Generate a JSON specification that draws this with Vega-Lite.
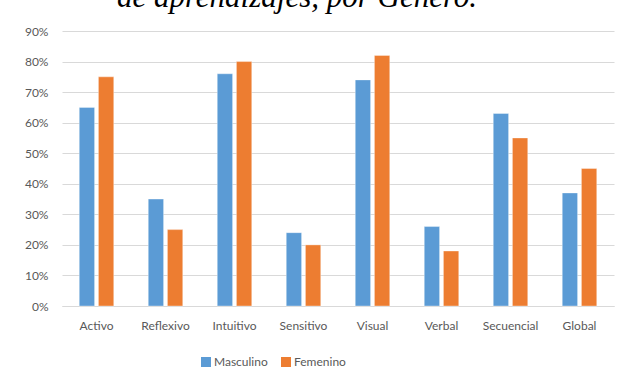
{
  "$schema": "https://vega.github.io/schema/vega-lite/v6.json",
  "width": 552,
  "height": 275,
  "autosize": {"type": "none"},
  "padding": {"left": 62, "top": 31, "right": 6, "bottom": 74},
  "background": "white",
  "title": {
    "text": "de aprendizajes, por Género.",
    "font": "Liberation Serif",
    "fontStyle": "italic",
    "fontWeight": "normal",
    "fontSize": 31,
    "color": "#000000",
    "anchor": "middle",
    "frame": "group",
    "dx": -41,
    "baseline": "alphabetic",
    "offset": 0,
    "dy": 13
  },
  "data": {
    "values": [
      {"estilo": "Activo", "genero": "Masculino", "valor": 0.65},
      {"estilo": "Activo", "genero": "Femenino", "valor": 0.75},
      {"estilo": "Reflexivo", "genero": "Masculino", "valor": 0.35},
      {"estilo": "Reflexivo", "genero": "Femenino", "valor": 0.25},
      {"estilo": "Intuitivo", "genero": "Masculino", "valor": 0.76},
      {"estilo": "Intuitivo", "genero": "Femenino", "valor": 0.80},
      {"estilo": "Sensitivo", "genero": "Masculino", "valor": 0.24},
      {"estilo": "Sensitivo", "genero": "Femenino", "valor": 0.20},
      {"estilo": "Visual", "genero": "Masculino", "valor": 0.74},
      {"estilo": "Visual", "genero": "Femenino", "valor": 0.82},
      {"estilo": "Verbal", "genero": "Masculino", "valor": 0.26},
      {"estilo": "Verbal", "genero": "Femenino", "valor": 0.18},
      {"estilo": "Secuencial", "genero": "Masculino", "valor": 0.63},
      {"estilo": "Secuencial", "genero": "Femenino", "valor": 0.55},
      {"estilo": "Global", "genero": "Masculino", "valor": 0.37},
      {"estilo": "Global", "genero": "Femenino", "valor": 0.45}
    ]
  },
  "mark": {"type": "bar", "stroke": "#ffffff", "strokeWidth": 0.6, "strokeOpacity": 0.6},
  "encoding": {
    "x": {
      "field": "estilo",
      "type": "nominal",
      "sort": null,
      "title": null,
      "scale": {"paddingInner": 0.5, "paddingOuter": 0.25},
      "axis": {
        "labelAngle": 0,
        "labelFont": "Lato",
        "labelFontSize": 12,
        "labelColor": "#595959",
        "labelPadding": 14,
        "ticks": false,
        "domainColor": "#d9d9d9",
        "domainWidth": 1
      }
    },
    "xOffset": {
      "field": "genero",
      "sort": ["Masculino", "Femenino"],
      "scale": {"paddingInner": 0.2, "paddingOuter": 0}
    },
    "y": {
      "field": "valor",
      "type": "quantitative",
      "title": null,
      "scale": {"domain": [0, 0.9], "nice": false},
      "axis": {
        "values": [0, 0.1, 0.2, 0.3, 0.4, 0.5, 0.6, 0.7, 0.8, 0.9],
        "format": ".0%",
        "labelFont": "Lato",
        "labelFontSize": 12,
        "labelColor": "#595959",
        "labelPadding": 14,
        "ticks": false,
        "domain": false,
        "gridColor": "#d9d9d9",
        "gridWidth": 1
      }
    },
    "color": {
      "field": "genero",
      "type": "nominal",
      "sort": ["Masculino", "Femenino"],
      "scale": {"domain": ["Masculino", "Femenino"], "range": ["#5B9BD5", "#ED7D31"]},
      "legend": {
        "title": null,
        "orient": "none",
        "legendX": 138,
        "legendY": 325,
        "direction": "horizontal",
        "symbolType": "square",
        "symbolSize": 100,
        "symbolStrokeWidth": 0,
        "labelFont": "Lato",
        "labelFontSize": 12,
        "labelColor": "#595959",
        "labelOffset": 2,
        "columnPadding": 12
      }
    }
  },
  "config": {"view": {"stroke": null}}
}
